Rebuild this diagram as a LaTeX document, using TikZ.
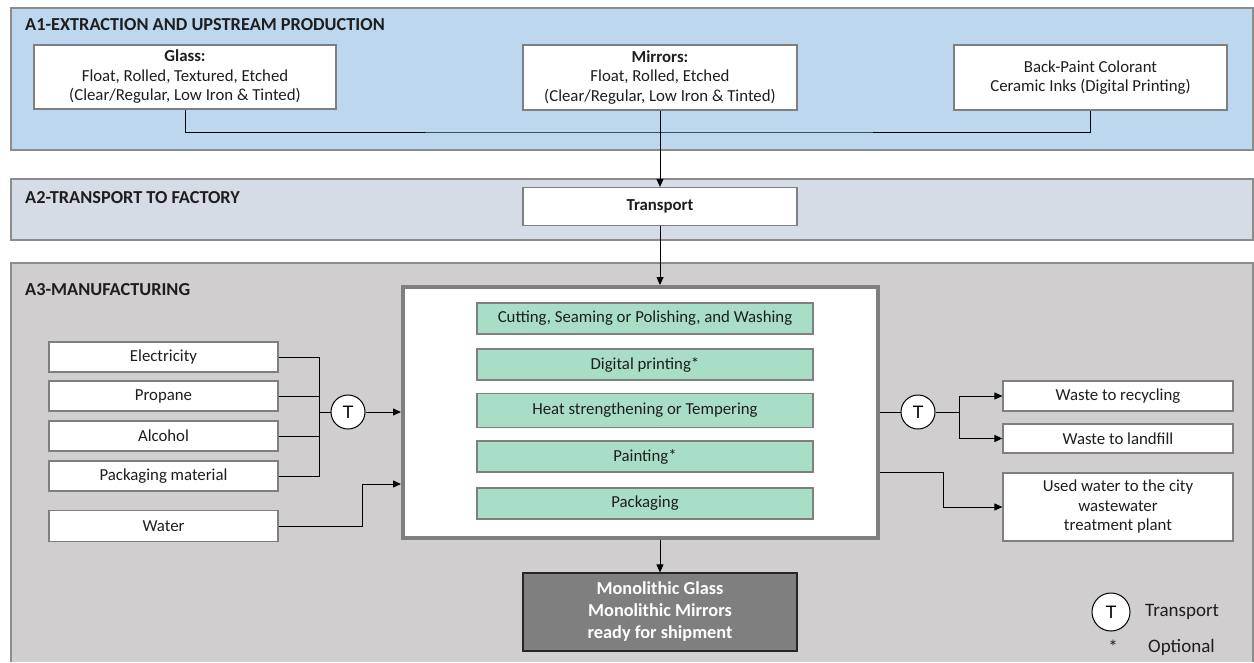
\documentclass[tikz,border=0pt]{standalone}
\usepackage{fontspec}
\setmainfont{Carlito}
\newfontfamily\arialfont{Liberation Sans}
\usetikzlibrary{arrows.meta, calc}

\definecolor{panelA}{HTML}{BDD7EE}
\definecolor{panelB}{HTML}{D6DCE5}
\definecolor{panelC}{HTML}{D0CECE}
\definecolor{stepgreen}{HTML}{A9DEC6}
\definecolor{edgegray}{HTML}{7F7F7F}
\definecolor{txt}{HTML}{1E1E1E}

\begin{document}
\begin{tikzpicture}[line cap=butt,line join=miter,x=1pt,y=-1pt,
    >={Triangle[length=8pt,width=7pt]},
    font=\fontsize{16.8}{19.5}\selectfont,
    panel/.style={draw=edgegray!90, line width=1.6pt},
    title/.style={anchor=west, inner sep=0pt, text=txt, font=\fontsize{18.3}{21}\selectfont\bfseries},
    whitebox/.style={draw=edgegray, line width=1.2pt, fill=white, inner sep=0pt, align=center, text=txt},
    stepbox/.style={draw=edgegray, line width=1.2pt, fill=stepgreen, inner sep=0pt, minimum width=336, minimum height=31, text=txt},
    inbox/.style={whitebox, minimum width=229, minimum height=30},
    outbox/.style={whitebox, minimum width=230},
    tcirc/.style={circle, draw=black, line width=1pt, fill=white, minimum size=34, inner sep=0pt, font=\arialfont\fontsize{18}{20}\selectfont},
    flow/.style={line width=0.9pt, draw=black}]
    \useasboundingbox (0,0) rectangle (1254,662);
    % panels
    \fill[panelA] (11,8) rectangle (1253,150);
    \draw[panel] (11,8) rectangle (1253,150);
    \fill[panelB] (11,179) rectangle (1253,240);
    \draw[panel] (11,179) rectangle (1253,240);
    \fill[panelC] (11,263) rectangle (1253,662);
    \draw[panel] (11,662) -- (11,263) -- (1253,263) -- (1253,662);
    \node[title] (tA) at (25,25) {A1-EXTRACTION AND UPSTREAM PRODUCTION};
    \node[title] (tB) at (25,198) {A2-TRANSPORT TO FACTORY};
    \node[title] (tC) at (25,290) {A3-MANUFACTURING};
    % A1
    \node[whitebox, minimum width=302, minimum height=64] (glass) at (185,77)
        {\textbf{Glass:}\\Float, Rolled, Textured, Etched\\(Clear/Regular, Low Iron \& Tinted)};
    \node[whitebox, minimum width=274, minimum height=65] (mirr) at (660,77.5)
        {\textbf{Mirrors:}\\Float, Rolled, Etched\\(Clear/Regular, Low Iron \& Tinted)};
    \node[whitebox, minimum width=273, minimum height=65] (paint) at (1090.5,77.5)
        {Back-Paint Colorant\\Ceramic Inks (Digital Printing)};
    \coordinate (jtop) at (660,132);
    \draw[flow] (glass.south) |- (jtop) -| (paint.south);
    % A2
    \node[whitebox, minimum width=274, minimum height=38] (trans) at (660,206.5) {\textbf{Transport}};
    \draw[flow,->] (mirr.south) -- (trans.north);
    % A3
    \node[draw=edgegray, line width=4pt, fill=white, minimum width=475, minimum height=251, inner sep=0pt] (proc) at (640.5,412.5) {};
    \draw[flow,->] (trans.south) -- (trans.south |- proc.north);
    \node[stepbox] (s1) at (645,318.5) {Cutting, Seaming or Polishing, and Washing};
    \node[stepbox] (s2) at (645,364.5) {Digital printing*};
    \node[stepbox, minimum height=34] (s3) at (645,410.5) {Heat strengthening or Tempering};
    \node[stepbox] (s4) at (645,456.5) {Painting*};
    \node[stepbox] (s5) at (645,503.5) {Packaging};
    % inputs
    \node[inbox] (elec) at (163.5,357) {Electricity};
    \node[inbox] (prop) at (163.5,396) {Propane};
    \node[inbox] (alco) at (163.5,436) {Alcohol};
    \node[inbox] (pack) at (163.5,476) {Packaging material};
    \node[inbox, minimum height=31] (water) at (163.5,526) {Water};
    \node[tcirc] (tl) at (348,412) {T};
    \coordinate (jl) at (319,412);
    \draw[flow] (elec.east) -| (jl);
    \draw[flow] (prop.east) -| (jl);
    \draw[flow] (alco.east) -| (jl);
    \draw[flow] (pack.east) -| (jl);
    \draw[flow] (jl) -- (tl.west);
    \draw[flow,->] (tl.east) -- (tl.east -| proc.west);
    \coordinate (jw) at (362,484);
    \draw[flow,->] (water.east) -| (jw) -- (jw -| proc.west);
    % outputs
    \node[outbox, minimum height=30] (recyc) at (1118,396) {Waste to recycling};
    \node[outbox, minimum height=29] (landf) at (1118,438.5) {Waste to landfill};
    \node[outbox, minimum height=68] (used) at (1118,507) {Used water to the city\\wastewater\\treatment plant};
    \node[tcirc] (tr) at (918,412) {T};
    \coordinate (jr) at (959,412);
    \draw[flow] (tr.west -| proc.east) -- (tr.west);
    \draw[flow,->] (tr.east) -- (jr) |- (recyc.west);
    \draw[flow,->] (jr) |- (landf.west);
    \coordinate (ju) at (943,472);
    \draw[flow,->] (ju -| proc.east) -- (ju) |- (used.west);
    % product
    \node[draw=black!85, line width=1.2pt, fill=edgegray, minimum width=274, minimum height=78, inner sep=0pt,
        align=center, text=white, font=\fontsize{18.3}{22}\selectfont\bfseries] (prod) at (660,612)
        {Monolithic Glass\\Monolithic Mirrors\\ready for shipment};
    \draw[flow,->] (prod.north |- proc.south) -- (prod.north);
    % legend
    \node[tcirc, minimum size=38] (lgT) at (1111,612) {T};
    \node[anchor=west, inner sep=0pt, text=txt, font=\fontsize{19}{22}\selectfont] (lgTt) at (1145,612) {Transport};
    \node[inner sep=0pt, text=txt, font=\fontsize{19}{22}\selectfont] (lgS) at (1113,647) {*};
    \node[anchor=west, inner sep=0pt, text=txt, font=\fontsize{19}{22}\selectfont] (lgSt) at (1148,647) {Optional};
\end{tikzpicture}
\end{document}
